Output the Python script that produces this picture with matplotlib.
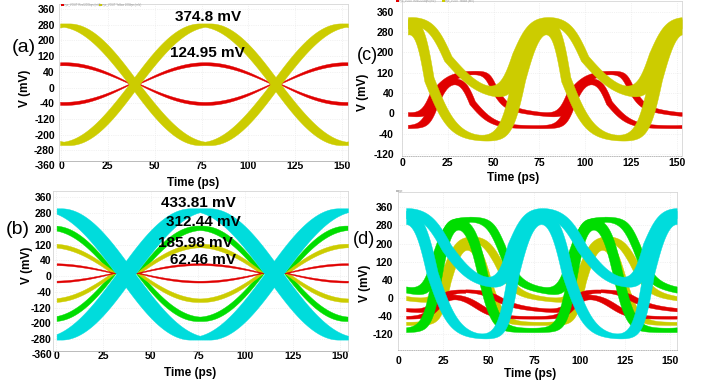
import numpy as np
import matplotlib
matplotlib.use("Agg")
import matplotlib.pyplot as plt
from matplotlib.patches import Rectangle
from matplotlib.transforms import blended_transform_factory

W, H = 709, 383
plt.rcParams['font.family'] = ['Liberation Sans', 'DejaVu Sans']

RED, YEL, GRN, CYA = '#E00000', '#CCCC00', '#00DD00', '#00DCDC'

# ---- tick labels (evenly spaced on the axis) ----
Y_LABELS_AB = ['-360', '-280', '-200', '-120', '-40', '0', '40', '120', '200', '280', '360']
Y_LABELS_CD = ['-120', '-40', '0', '40', '120', '200', '280', '360']
X_TICKS = [0, 25, 50, 75, 100, 125, 150]

# ---- panel (a): symmetric eye, red + yellow ----
A_COLOR = [RED, YEL]
A_CENTER = [18, 15]
A_AMP = [91, 272]
A_AMP_JIT = [7, 7]
A_TIME_JIT = [0.5, 2.8]
A_DEAD = [0.09, 0.0]
A_PEAK_T, A_HALF_UI = 76.8, 75.4
A_NOTES = ['374.8 mV', '124.95 mV']

# ---- panel (b): symmetric eye, four amplitudes ----
B_COLOR = [GRN, YEL, RED, CYA]
B_CENTER = [13, 15, 15, 10]
B_AMP = [208, 125, 40, 294]
B_AMP_JIT = [10, 8, 4, 6]
B_TIME_JIT = [1.2, 1.0, 0.8, 5.0]
B_DEAD = [0.26, 0.26, 0.26, 0.0]
B_PEAK_T, B_HALF_UI = 76.0, 78.3
B_NOTES = ['433.81 mV', '312.44 mV', '185.98 mV', '62.46 mV']

# ---- panel (c): pulse traces (fast / slow fall branches) ----
C_PERIOD = 74.7
C_COLOR = [RED, RED, YEL, YEL]
C_LOW = [-28, -2, -72, 65]
C_TAIL = [0, 50, 0, 0]
C_TAIL_TAU = [25, 25, 25, 25]
C_PEAK = [135, 157, 340, 340]
C_RISE = [17.5, 17.5, 63.7, 63.7]
C_RISE_TAU = [(2.5, 3.0), (2.5, 5.0), (3.6, 4.6), (3.6, 4.6)]
C_FALL = [38.3, 50.0, 89.4, 99.7]
C_FALL_TAU = [(2.7, 5.6), (2.0, 3.0), (2.8, 6.5), (5.0, 9.8)]
C_JIT_RISE = [2.2, 2.2, 3.5, 3.5]
C_JIT_FALL = [1.5, 1.5, 2.5, 2.0]
C_AMP_JIT = [5, 5, 6, 8]

# ---- panel (d) ----
D_PERIOD = 74.5
D_COLOR = [YEL, YEL, RED, RED, GRN, GRN, CYA, CYA]
D_LOW = [-80, -5, -57, -45, -105, 10, -135, 58]
D_TAIL = [0, 60, 0, 50, 0, 90, 0, 0]
D_TAIL_TAU = [22, 22, 25, 25, 25, 25, 25, 25]
D_PEAK = [250, 250, 30, 45, 318, 318, 356, 356]
D_RISE = [27, 27, 21, 22, 21.5, 21.5, 63.5, 63.5]
D_RISE_TAU = [(2.7, 3.5), (2.7, 3.5), (3, 3), (3, 3), (2.8, 2.8), (2.8, 3.5), (3, 4.5), (3, 4.5)]
D_FALL = [49, 55, 44, 52, 46.5, 56.8, 93.3, 101.2]
D_FALL_TAU = [(3.5, 3.8), (4, 4), (5, 5), (4, 4), (3.6, 3.6), (3.4, 3.4), (4, 6), (6, 8)]
D_JIT_RISE = [2, 2, 2, 2, 2.5, 2.5, 3, 3]
D_JIT_FALL = [2, 2, 2, 2, 2.5, 2, 3, 2.5]
D_AMP_JIT = [6, 6, 5, 5, 8, 8, 5, 10]


def px_rect(l, t, r, b):
    return [l / W, 1 - b / H, (r - l) / W, (b - t) / H]


def ftext(x, y, s, **kw):
    fig.text(x / W, 1 - y / H, s, ha='center', va='center', **kw)


def eye_band(t, c, amp, aj, tj, dead, t_pk, half, sign):
    vals = []
    for dt in np.linspace(-tj, tj, 9):
        cs = np.cos(np.pi * (t - t_pk - dt) / half)
        g = np.sign(cs) * np.clip((np.abs(cs) - dead) / (1 - dead), 0, None)
        for da in (-aj, aj):
            vals.append(c + sign * (amp + da) * g)
    v = np.array(vals)
    return v.min(0), v.max(0)


def step(t, c, tl, tr):
    s = t - c
    return 1 / (1 + np.exp(-s / np.where(s < 0, tl, tr)))


def pulse_band(t, T, low, tail, tail_tau, peak, rc, rtau, fc, ftau, jr, jf, aj):
    mid = (rc + fc) / 2
    ts = np.mod(t - mid, T) - (fc - mid)
    vals = []
    for a in np.linspace(-jr, jr, 4):
        for b in np.linspace(-jf, jf, 4):
            h = 0
            for k in range(-3, 4):
                h = h + step(t, rc + a + k * T, *rtau) * (1 - step(t, fc + b + k * T, *ftau))
            base = low + tail * np.exp(-np.clip(ts - b, 0, None) / tail_tau)
            for d in (-aj, aj):
                vals.append(base + d + (peak - base) * h)
    v = np.array(vals)
    return v.min(0), v.max(0)


def style(ax, xlim, ylim, ypos, ylab, ypad, xpad, bottom_ls='-'):
    ax.set_xlim(xlim)
    ax.set_ylim(ylim)
    ax.set_xticks(X_TICKS)
    keep = [i for i, p in enumerate(ypos) if ylim[0] <= p <= ylim[1]]
    ax.set_yticks([ypos[i] for i in keep])
    ax.set_yticklabels([ylab[i] for i in keep])
    ax.tick_params(axis='both', length=0, labelsize=7.5)
    ax.tick_params(axis='y', pad=ypad)
    ax.tick_params(axis='x', pad=xpad)
    for lab in ax.get_xticklabels() + ax.get_yticklabels():
        lab.set_fontweight('bold')
    ax.grid(True, color='#e6e6e6', lw=0.5, ls=':')
    ax.set_axisbelow(True)
    for sp in ax.spines.values():
        sp.set_color('#d6d6d6')
        sp.set_linewidth(0.6)
    ax.spines['bottom'].set_linestyle(bottom_ls)
    ax.spines['bottom'].set_color('#b0b0b0')


def legend(x, y, entries):
    for col, txt, w in entries:
        fig.add_artist(Rectangle((x / W, 1 - (y + 1.8) / H), 2.6 / W, 1.8 / H,
                                 color=col, transform=fig.transFigure, lw=0))
        fig.text((x + 3.2) / W, 1 - (y + 0.9) / H, txt, fontsize=2.0, color='#999999',
                 va='center', ha='left')
        x += w


fig = plt.figure(figsize=(W / 100, H / 100), dpi=100)
bold = dict(fontweight='bold')

# ================= (a) =================
ax = fig.add_axes(px_rect(59, 4, 348, 161))
ypos = np.linspace(-360, 360, 11)
t = np.linspace(-0.5, 153.2, 1600)
for i in range(2):
    for sgn in (1, -1):
        lo, hi = eye_band(t, A_CENTER[i], A_AMP[i], A_AMP_JIT[i], A_TIME_JIT[i],
                          A_DEAD[i], A_PEAK_T, A_HALF_UI, sgn)
        ax.fill_between(t, lo, hi, color=A_COLOR[i], lw=0.3, zorder=2 + i)
style(ax, (-1.07, 153.2), (-337, 383), ypos, Y_LABELS_AB, 3, 0)
ax.text((55 - 59) / 289, -360, '-360', transform=blended_transform_factory(ax.transAxes, ax.transData),
        ha='right', va='center', fontsize=7.5, fontweight='bold', clip_on=False)
ftext(208, 17, A_NOTES[0], fontsize=11, **bold)
ftext(207, 53, A_NOTES[1], fontsize=11, **bold)
ftext(193, 183, 'Time (ps)', fontsize=8.5, **bold)
ftext(25, 88, 'V (mV)', fontsize=8.5, rotation=90, **bold)
ftext(24, 47, '(a)', fontsize=14)
legend(61, 4.3, [(RED, 'eye_VOUT Red 20Gbps (mV)', 38), (YEL, 'eye_VOUT Yellow 20Gbps (mV)', 38)])

# ================= (b) =================
ax = fig.add_axes(px_rect(53, 191, 348, 351))
t = np.linspace(0.3, 154.3, 1600)
for i in range(4):
    for sgn in (1, -1):
        lo, hi = eye_band(t, B_CENTER[i], B_AMP[i], B_AMP_JIT[i], B_TIME_JIT[i],
                          B_DEAD[i], B_PEAK_T, B_HALF_UI, sgn)
        ax.fill_between(t, lo, hi, color=B_COLOR[i], lw=0.3, zorder=2 + i)
style(ax, (-1.6, 154.3), (-342, 389), ypos, Y_LABELS_AB, 1, 0)
ax.text((52 - 53) / 295, -360, '-360', transform=blended_transform_factory(ax.transAxes, ax.transData),
        ha='right', va='center', fontsize=7.5, fontweight='bold', clip_on=False)
for (x, y), s in zip([(198, 203), (203, 222), (195, 243), (203, 260)], B_NOTES):
    ftext(x, y, s, fontsize=11, **bold)
ftext(190, 373, 'Time (ps)', fontsize=8.5, **bold)
ftext(27, 265, 'V (mV)', fontsize=8.5, rotation=90, **bold)
ftext(18, 229, '(b)', fontsize=14)

# ================= (c) =================
ax = fig.add_axes(px_rect(402, 0.5, 682, 156))
ypos = np.linspace(-120, 360, 8)
t = np.linspace(3.2, 152.7, 1600)
for i in range(4):
    lo, hi = pulse_band(t, C_PERIOD, C_LOW[i], C_TAIL[i], C_TAIL_TAU[i], C_PEAK[i],
                        C_RISE[i], C_RISE_TAU[i], C_FALL[i], C_FALL_TAU[i],
                        C_JIT_RISE[i], C_JIT_FALL[i], C_AMP_JIT[i])
    ax.fill_between(t, lo, hi, color=C_COLOR[i], lw=0.3, zorder=2 + i)
style(ax, (3.2, 152.9), (-126.7, 397.8), ypos, Y_LABELS_CD, 5.8, 1.5, bottom_ls=':')
ftext(513, 178, 'Time (ps)', fontsize=8.5, **bold)
ftext(363, 92, 'V (mV)', fontsize=8.5, rotation=90, **bold)
ftext(367, 56, '(c)', fontsize=13)
legend(396, 0.2, [(RED, 'eye_VOUT Red 20Gbps (mV)', 46), (YEL, 'eye_VOUT Yellow (mV)', 30)])

# ================= (d) =================
ax = fig.add_axes(px_rect(398, 192, 677, 350))
t = np.linspace(4.45, 153.5, 1600)
for i in range(8):
    lo, hi = pulse_band(t, D_PERIOD, D_LOW[i], D_TAIL[i], D_TAIL_TAU[i], D_PEAK[i],
                        D_RISE[i], D_RISE_TAU[i], D_FALL[i], D_FALL_TAU[i],
                        D_JIT_RISE[i], D_JIT_FALL[i], D_AMP_JIT[i])
    ax.fill_between(t, lo, hi, color=D_COLOR[i], lw=0.3, zorder=2 + i // 2)
style(ax, (4.3, 153.7), (-180.6, 418), ypos, Y_LABELS_CD, 3.6, 4, bottom_ls=':')
ftext(530, 374, 'Time (ps)', fontsize=8.5, **bold)
ftext(365, 283, 'V (mV)', fontsize=8.5, rotation=90, **bold)
ftext(364, 240, '(d)', fontsize=13)
legend(396, 190, [('#bbbbbb', 'eye', 10)])

fig.savefig('out.png', dpi=100, facecolor='white')
